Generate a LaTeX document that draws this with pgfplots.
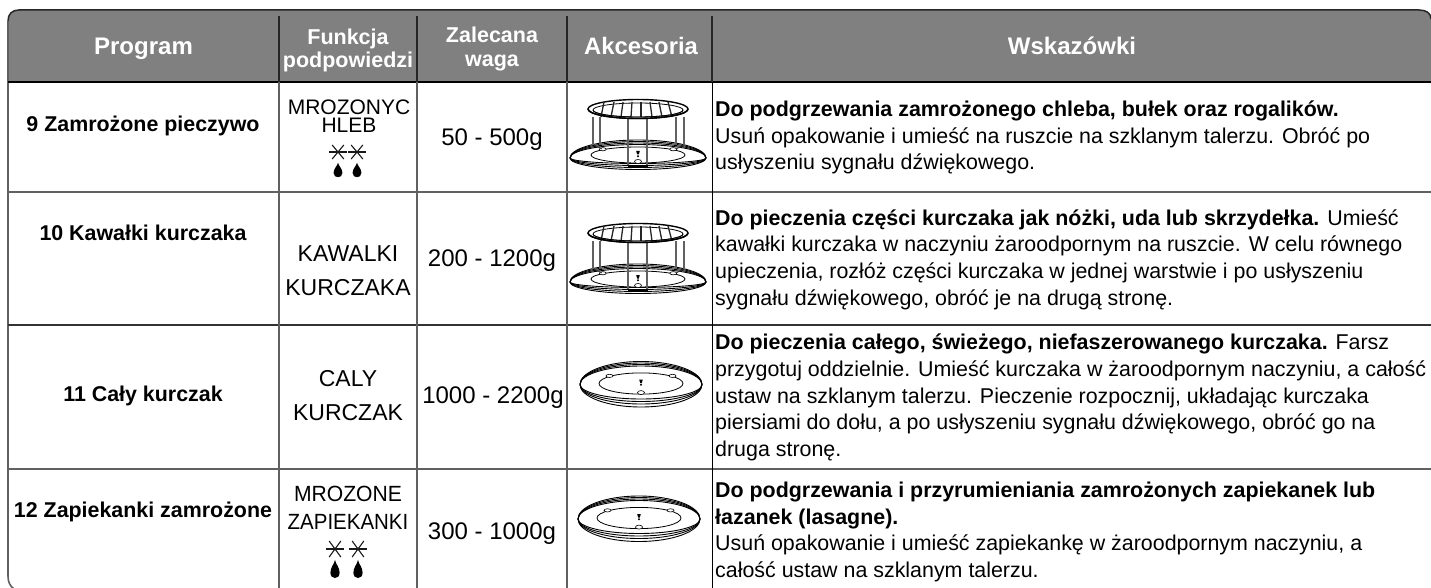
\documentclass[border=0pt]{standalone}
\usepackage{fontspec}
\setmainfont{Liberation Sans}
\usepackage{graphicx}
\usepackage{pgfplots}
\pgfplotsset{compat=1.18}
\definecolor{hdr}{HTML}{808080}
\definecolor{sep}{HTML}{606060}
\newcommand\sz[1]{\fontsize{#1}{#1}\selectfont}
\newcommand\TX[3]{\node[anchor=base west,inner sep=0pt,text=black] at (axis cs:#1,#2) {\sz{21.4}#3};}
\newcommand\BX[3]{\TX{#1}{#2}{\bfseries #3}}
\newcommand\CX[4]{\node[anchor=base,inner sep=0pt,text=black] at (axis cs:#1,#2) {\sz{#3}#4};}
\newcommand\HD[3]{\node[anchor=base,inner sep=0pt,text=white] at (axis cs:#1,#2) {\bfseries #3};}
\newcommand\staricon[4]{\pgfplotsextra{\begin{scope}[shift={(axis cs:#1,#2)}]
 \draw[line width=1.1pt,black!90] (-#3 pt,0pt)--(#3 pt,0pt);
 \draw[line width=1.1pt,black!90] (-#3 pt*0.65,-#4 pt)--(#3 pt*0.65,#4 pt);
 \draw[line width=1.1pt,black!90] (-#3 pt*0.65,#4 pt)--(#3 pt*0.65,-#4 pt);
 \end{scope}}}
\newcommand\dropicon[3]{\pgfplotsextra{\begin{scope}[shift={(axis cs:#1,#2)},scale=#3]
 \fill[black] (0pt,9pt) .. controls (0.8pt,5pt) and (4.6pt,1.5pt) .. (4.6pt,-3.6pt)
   .. controls (4.6pt,-7.4pt) and (2.2pt,-9pt) .. (0pt,-9pt)
   .. controls (-2.2pt,-9pt) and (-4.6pt,-7.4pt) .. (-4.6pt,-3.6pt)
   .. controls (-4.6pt,1.5pt) and (-0.8pt,5pt) .. (0pt,9pt) -- cycle;
 \end{scope}}}
% plate: rx, top radii, bottom radii, inner rx, inner ry, inner dy
\newcommand\plateshape[6]{%
 \foreach \r in {#2}{
   \draw[line width=0.9pt,black] (-#1pt,0pt) arc[start angle=180,end angle=0,x radius=#1pt,y radius=\r pt];
 }
 \foreach \r in {#3}{
   \draw[line width=0.9pt,black] (-#1pt,0pt) arc[start angle=180,end angle=360,x radius=#1pt,y radius=\r pt];
 }
 \begin{scope}[shift={(0pt,#6pt)}]
 \draw[line width=0.8pt,black] (0pt,0pt) ellipse[x radius=#4pt,y radius=#5pt];
 \draw[line width=0.6pt,black,fill=white] (-#4pt*0.75,#5pt*0.72) ellipse[x radius=3.5pt,y radius=1.6pt];
 \draw[line width=0.6pt,black,fill=white] (#4pt*0.75,#5pt*0.72) ellipse[x radius=3.5pt,y radius=1.6pt];
 \draw[line width=0.6pt,black,fill=white] (0pt,-#5pt+1.5pt) ellipse[x radius=3.5pt,y radius=2pt];
 \fill[black] (-1.8pt,4pt) -- (1.8pt,4pt) -- (0.8pt,0.5pt) -- (-0.8pt,0.5pt) -- cycle;
 \fill[black] (0pt,-1.2pt) circle[radius=1.1pt];
 \end{scope}
}
\newcommand\plateicon[2]{\pgfplotsextra{\begin{scope}[shift={(axis cs:#1,#2)}]\plateshape{61}{23,21.5,20,18.5}{14.5,17,19.5,22.5}{42}{10.6}{1}\end{scope}}}
\newcommand\leg[3]{%
 \draw[line width=2.3pt,black!62] (#1pt,#2pt)--(#1pt,#3pt);
}
\newcommand\rackicon[2]{\pgfplotsextra{\begin{scope}[shift={(axis cs:#1,#2)}]
 \plateshape{68}{18,16.5,15,13.5}{5.5,7.5,9.5,11.5}{47}{8}{3}
 \draw[line width=1.4pt,black] (0pt,49pt) ellipse[x radius=50pt,y radius=9.5pt];
 \draw[line width=0.8pt,black] (0pt,48pt) ellipse[x radius=45pt,y radius=7pt];
 \foreach \a/\b in {-34/-37,-24/-27,-15/-17,-6/-7,3/3,12/14,21/24,30/34}{
   \draw[line width=1.3pt,black!85] (\b pt,41pt)--(\a pt,56pt);
 }
 \leg{-44.7}{41}{13}\leg{-38}{41}{13}\leg{-9.7}{39}{-7}\leg{8.7}{39}{-7}\leg{38}{41}{13}\leg{46}{41}{13}
 \draw[line width=1.4pt,black] (-50pt,49pt) arc[start angle=180,end angle=360,x radius=50pt,y radius=9.5pt];
 \draw[line width=0.8pt,black] (-45pt,48pt) arc[start angle=180,end angle=360,x radius=45pt,y radius=7pt];
 \draw[line width=0.8pt,black!80] (-44pt,13pt)--(-36pt,9pt) (46pt,13pt)--(38pt,9pt);
 \draw[line width=0.9pt,black,fill=black!35] (-10pt,-8pt) rectangle (9pt,-9.5pt);
 \end{scope}}}
\begin{document}
\begin{tikzpicture}[x=1pt,y=1pt]
\useasboundingbox (0pt,0pt) rectangle (1431pt,588pt);
\begin{axis}[at={(0pt,0pt)},anchor=south west,scale only axis,width=1431pt,height=588pt,
  xmin=0,xmax=1431,ymin=0,ymax=588,y dir=reverse,hide axis,clip=false]
% header band
\fill[hdr] (8,82) -- (8,21) .. controls (8,14) and (12,10) .. (19,10) -- (1419,10) .. controls (1426,10) and (1431,13) .. (1431,19) -- (1431,82) -- cycle;
\draw[line width=1.5pt,black!85] (8,21) .. controls (8,14) and (12,10) .. (19,10) -- (1419,10) .. controls (1426,10) and (1431,13) .. (1431,19);
% outer left edge with lower rounded corner
\draw[line width=1.6pt,sep] (8,21) -- (8,576) .. controls (8,582) and (10,586) .. (14,589);
% rules
\addplot[black,line width=1.2pt,no marks] coordinates {(8,82) (1431,82)};
\addplot[sep,line width=1.5pt,no marks] coordinates {(8,192) (1431,192)};
\addplot[black!80,line width=1.2pt,no marks] coordinates {(8,325) (1431,325)};
\addplot[sep,line width=1.6pt,no marks] coordinates {(8,469) (1431,469)};
\addplot[black,line width=1pt,no marks] coordinates {(712,82) (712,588)};
\addplot[sep,line width=1.4pt,no marks] coordinates {(279,82) (279,588)};
\addplot[sep,line width=1.4pt,no marks] coordinates {(417,82) (417,588)};
\addplot[sep,line width=1.4pt,no marks] coordinates {(567,82) (567,588)};
\addplot[black!85,line width=1.4pt,no marks] coordinates {(279,16) (279,82)};
\addplot[black!85,line width=1.4pt,no marks] coordinates {(417,16) (417,82)};
\addplot[black!85,line width=1.4pt,no marks] coordinates {(567,16) (567,82)};
\addplot[black!85,line width=1.4pt,no marks] coordinates {(712,16) (712,82)};
% header
\HD{143.5}{55}{\sz{24}Program}
\HD{348}{45}{\sz{21.5}Funkcja}
\HD{348}{68}{\sz{21.5}podpowiedzi}
\HD{492}{43}{\sz{21.5}Zalecana}
\HD{492}{67}{\sz{21.5}waga}
\HD{641}{55}{\sz{23.8}Akcesoria}
\HD{1072}{55}{\sz{24}Wskazówki}
% programme
\CX{143}{132}{21.4}{\bfseries 9 Zamrożone pieczywo}
\CX{143}{240}{21.4}{\bfseries 10 Kawałki kurczaka}
\CX{143}{401.7}{21.4}{\bfseries 11 Cały kurczak}
\CX{143}{517}{21.4}{\bfseries 12 Zapiekanki zamrożone}
% function
\CX{349}{115}{21}{MROZONYC}
\CX{349}{133}{21}{HLEB}
\CX{348}{261.7}{23}{KAWALKI}
\CX{348}{295.7}{23}{KURCZAKA}
\CX{348}{386.7}{23}{CALY}
\CX{348}{420.7}{23}{KURCZAK}
\CX{348}{501.7}{22}{\scalebox{0.96}[1]{MROZONE}}
\CX{348}{529}{22}{\scalebox{0.93}[1]{ZAPIEKANKI}}
\staricon{338}{152}{9}{7}
\staricon{357}{152}{9}{7}
\dropicon{338}{170}{0.8,xscale=1.2}
\dropicon{357}{170}{0.8,xscale=1.2}
\staricon{335}{549}{9}{8}
\staricon{358}{549}{9}{8}
\dropicon{335}{569}{1}
\dropicon{358}{569}{1}
% weight
\CX{492}{145.7}{24}{50 - 500g}
\CX{492}{266}{24}{200 - 1200g}
\CX{493}{403}{24}{1000 - 2200g}
\CX{492}{539.7}{24}{300 - 1000g}
% accessories
\rackicon{638}{158}
\rackicon{638}{282}
\plateicon{641}{384.5}
\plateicon{639}{519}
% hints
\BX{715}{116.7}{Do podgrzewania zamrożonego chleba, bułek oraz rogalików.}
\TX{715}{143.3}{Usuń opakowanie i umieść na ruszcie na szklanym talerzu. Obróć po}
\TX{715}{170}{usłyszeniu sygnału dźwiękowego.}
\TX{715}{225}{\textbf{Do pieczenia części kurczaka jak nóżki, uda lub skrzydełka.} Umieść}
\TX{715}{251.7}{kawałki kurczaka w naczyniu żaroodpornym na ruszcie. W celu równego}
\TX{715}{278.3}{upieczenia, rozłóż części kurczaka w jednej warstwie i po usłyszeniu}
\TX{715}{305}{sygnału dźwiękowego, obróć je na drugą stronę.}
\TX{715}{349.7}{\textbf{Do pieczenia całego, świeżego, niefaszerowanego kurczaka.} Farsz}
\TX{715}{376.3}{przygotuj oddzielnie. Umieść kurczaka w żaroodpornym naczyniu, a całość}
\TX{715}{403}{ustaw na szklanym talerzu. Pieczenie rozpocznij, układając kurczaka}
\TX{715}{429.7}{piersiami do dołu, a po usłyszeniu sygnału dźwiękowego, obróć go na}
\TX{715}{456.3}{druga stronę.}
\BX{715}{497.3}{Do podgrzewania i przyrumieniania zamrożonych zapiekanek lub}
\BX{715}{524}{łazanek (lasagne).}
\TX{715}{550.7}{Usuń opakowanie i umieść zapiekankę w żaroodpornym naczyniu, a}
\TX{715}{577.3}{całość ustaw na szklanym talerzu.}
\end{axis}
\end{tikzpicture}
\end{document}
